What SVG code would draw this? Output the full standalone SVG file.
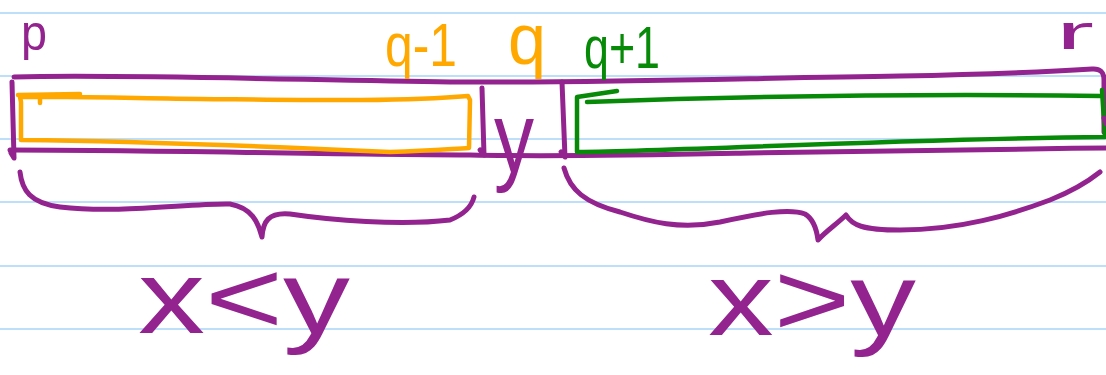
<svg xmlns="http://www.w3.org/2000/svg" width="1106" height="375" viewBox="0 0 1106 375">
<style>
.rule{stroke:#a9d5f7;stroke-width:1.6;fill:none}
.pen{fill:none;stroke-linecap:round;stroke-linejoin:round}
.pu{stroke:#93238e;stroke-width:5}
.or{stroke:#ffa800;stroke-width:4.5}
.gr{stroke:#078a07;stroke-width:4.5}
.t{font-family:"Liberation Sans","DejaVu Sans",sans-serif}
.tpu{fill:#93238e}
.tor{fill:#ffa800}
.tgr{fill:#078a07}
</style>
<rect width="1106" height="375" fill="#ffffff"/>
<g id="ruled-lines">
<line class="rule" x1="0" y1="13" x2="1106" y2="13"/>
<line class="rule" x1="0" y1="76" x2="1106" y2="76"/>
<line class="rule" x1="0" y1="139" x2="1106" y2="139"/>
<line class="rule" x1="0" y1="202" x2="1106" y2="202"/>
<line class="rule" x1="0" y1="266" x2="1106" y2="266"/>
<line class="rule" x1="0" y1="329" x2="1106" y2="329"/>
</g>
<g id="array">
<path class="pen pu" d="M14,77 C120,74 300,80 450,82 C600,83 750,78 900,76 C1000,74 1060,71 1092,69 Q1104,68 1104,80 L1104,132"/>
<path class="pen pu" d="M10,150 C150,150 300,154 470,155 C560,157 650,155 750,153 C900,151 1000,149 1106,148"/>
<path class="pen pu" d="M12,82 L14,158 L11,153"/>
</g>
<g id="left-part">
<path class="pen or" d="M18,95 L80,94 M40,97 L40,103 M20,97 L21,102 L21,140 C120,141 260,146 390,152 C430,151 450,149 469,148 L470,100 L468,96 C400,102 300,100 200,99 C120,98 60,96 20,97"/>
</g>
<g id="pivot">
<path class="pen pu" d="M482,88 L484,155 L480,150"/>
<path class="pen pu" d="M562,82 L565,157 L561,152"/>
</g>
<g id="right-part">
<path class="pen gr" d="M617,91 L577,97 L577,152 C700,150 900,139 1105,137 L1102,90 M587,102 C700,98 900,93 1101,96"/>
<path class="pen pu" d="M1104,118 L1106,124"/>
</g>
<g id="brace-left">
<path class="pen pu" d="M20,172 C22,190 30,203 60,207 C120,214 190,203 230,204 C252,208 258,222 262,237 C263,222 268,212 290,214 C330,220 400,226 450,220 C465,214 472,205 474,197"/>
</g>
<g id="brace-right">
<path class="pen pu" d="M564,168 C570,190 585,203 620,212 C650,222 680,230 720,222 C760,213 790,208 805,214 C815,220 817,232 818,240 C825,232 838,223 846,215 C852,225 862,230 900,230 C960,230 1010,215 1050,200 C1075,190 1090,180 1100,172"/>
</g>
<g id="labels">
<text class="t tpu" x="21" y="50" font-size="50" textLength="26" lengthAdjust="spacingAndGlyphs">p</text>
<text class="t tor" x="385" y="66" font-size="62" textLength="72" lengthAdjust="spacingAndGlyphs">q-1</text>
<text class="t tor" x="508" y="64" font-size="72" textLength="38" lengthAdjust="spacingAndGlyphs">q</text>
<text class="t tgr" x="584" y="68" font-size="60" textLength="76" lengthAdjust="spacingAndGlyphs">q+1</text>
<text class="t tpu" x="1056" y="49" font-size="48" textLength="38" lengthAdjust="spacingAndGlyphs">r</text>
<text class="t tpu" x="494" y="172" font-size="100" textLength="40" lengthAdjust="spacingAndGlyphs">y</text>
<text class="t tpu" x="138" y="333" font-size="104" textLength="212" lengthAdjust="spacingAndGlyphs">x&lt;y</text>
<text class="t tpu" x="708" y="335" font-size="104" textLength="208" lengthAdjust="spacingAndGlyphs">x&gt;y</text>
</g>
<g id="connectors"/>
</svg>
